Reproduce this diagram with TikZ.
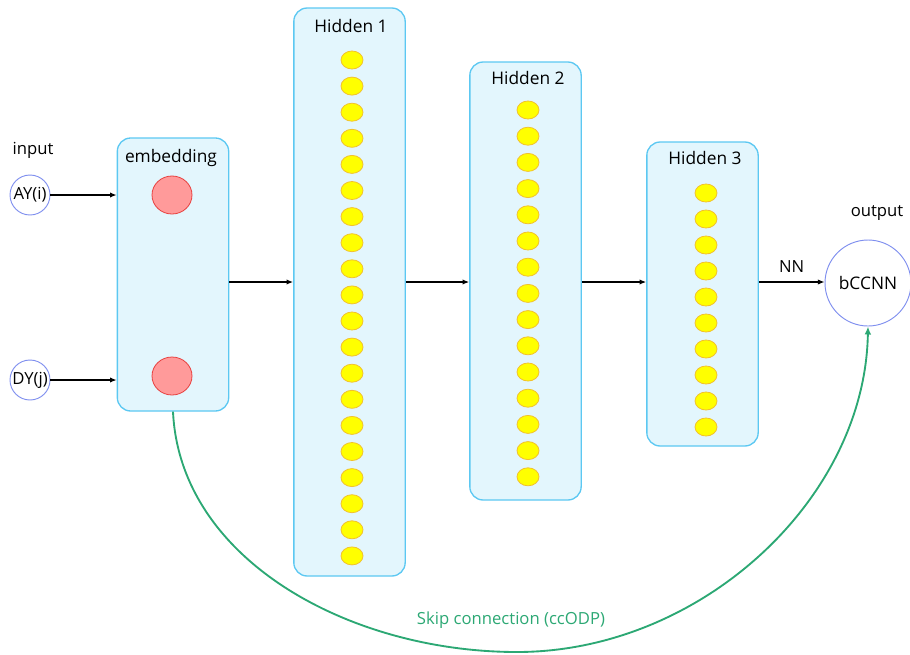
\documentclass[tikz,border=0pt]{standalone}
\usepackage{fontspec}
\setmainfont{Open Sans}
\usetikzlibrary{arrows.meta,shapes.geometric}
\definecolor{boxfill}{HTML}{E3F6FD}
\definecolor{boxline}{HTML}{5CC8F2}
\definecolor{unitfill}{HTML}{FFFF00}
\definecolor{unitline}{HTML}{F2C12E}
\definecolor{embfill}{HTML}{FF9A9A}
\definecolor{embline}{HTML}{E8403F}
\definecolor{ioline}{HTML}{7F8FEF}
\definecolor{skipgreen}{HTML}{2CA874}
\tikzset{layer/.style={draw=boxline, fill=boxfill, rounded corners=10pt, line width=1pt, minimum width=83.5pt},
  unit/.style={ellipse, draw=unitline, fill=unitfill, minimum width=16.5pt, minimum height=13.5pt, inner sep=0pt, line width=0.6pt},
  embunit/.style={ellipse, draw=embline, fill=embfill, minimum width=30pt, minimum height=28.5pt, inner sep=0pt, line width=0.6pt},
  io/.style={circle, draw=ioline, fill=white, inner sep=0pt, line width=0.7pt},
  title/.style={font=\fontsize{13}{15}\selectfont},
  label/.style={font=\fontsize{12.5}{14}\selectfont},
  conn/.style={-{Latex[length=5pt,width=4pt]}, line width=0.9pt},
  skip/.style={-{Latex[length=6pt,width=5pt]}, draw=skipgreen, line width=1.4pt}}

\begin{document}
\begin{tikzpicture}[x=0.75pt,y=-0.75pt]
  \useasboundingbox (0,0) rectangle (910,654);
  % layers
  \node[layer, minimum height=204.75pt] (emb) at (173,274.5) {};
  \node[layer, minimum height=426pt] (hid1) at (349.5,292) {};
  \node[layer, minimum height=328.5pt] (hid2) at (525.5,281) {};
  \node[layer, minimum height=228pt] (hid3) at (702.5,294) {};
  \node[title] (embt) at (171,158) {embedding};
  \node[title] (hid1t) at (351,26) {Hidden 1};
  \node[title] (hid2t) at (528,78) {Hidden 2};
  \node[title] (hid3t) at (705,158) {Hidden 3};
  % units
  \node[embunit] (e1) at (172,195) {};
  \node[embunit] (e2) at (172,376) {};
  \foreach \i in {1,...,20} \node[unit] (a\i) at (352,{60+26.1*(\i-1)}) {};
  \foreach \i in {1,...,15} \node[unit] (b\i) at (528,{110+26.2*(\i-1)}) {};
  \foreach \i in {1,...,10} \node[unit] (c\i) at (706,{193+26*(\i-1)}) {};
  % input / output
  \node[label] (inl) at (33,150) {input};
  \node[io, minimum size=30pt, label] (ay) at (30,195) {AY(i)};
  \node[io, minimum size=30pt, label] (dy) at (30,380) {DY(j)};
  \node[label] (outl) at (877,213) {output};
  \node[io, minimum size=64.5pt, title] (out) at (868,283) {bCCNN};
  \coordinate (mid) at (0,282);
  % arrows
  \draw[conn] (ay) -- (emb.west |- ay);
  \draw[conn] (dy) -- (emb.west |- dy);
  \draw[conn] (emb.east |- mid) -- (hid1.west |- mid);
  \draw[conn] (hid1.east |- mid) -- (hid2.west |- mid);
  \draw[conn] (hid2.east |- mid) -- (hid3.west |- mid);
  \draw[conn] (hid3.east |- mid) -- (out.west |- mid) node[label, midway, above=3pt] (nn) {NN};
  \draw[skip] (emb.south) .. controls (180,560) and (350,652) .. (517,652) .. controls (700,652) and (865,500) .. (out.south);
  \node[label, text=skipgreen] (skipl) at (511,620) {Skip connection (ccODP)};
\end{tikzpicture}
\end{document}
